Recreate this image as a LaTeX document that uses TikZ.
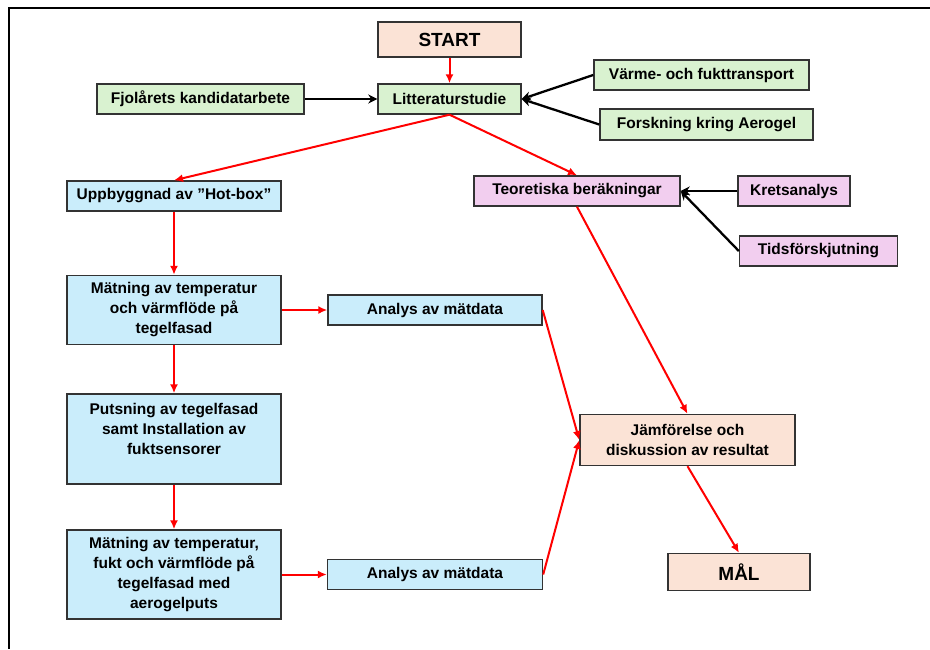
\documentclass[tikz,border=0pt]{standalone}
\usepackage{fontspec}
\setmainfont{Liberation Sans}
\usepackage{tikz}
\usetikzlibrary{arrows.meta}
\definecolor{startfill}{RGB}{251,227,214}
\definecolor{litfill}{RGB}{217,242,208}
\definecolor{measfill}{RGB}{202,237,251}
\definecolor{theofill}{RGB}{242,206,239}
\definecolor{flowred}{RGB}{255,0,0}

\begin{document}
\begin{tikzpicture}[x=1pt,y=-1pt, font=\fontsize{15.5}{20}\selectfont\bfseries,
  box/.style={draw=black!80,line width=1.4pt,inner sep=0pt,align=center},
  bigtext/.style={font=\fontsize{19}{22}\selectfont\bfseries},
  redarr/.style={->,draw=flowred,line width=2pt,>={Latex[length=9pt,width=8pt]}},
  blackarr/.style={->,draw=black,line width=2.3pt,>={Stealth[length=9pt,width=9pt]}}]
\useasboundingbox (0,0) rectangle (930,649);
\draw[line width=2.2pt] (930,8) -- (9,8) -- (9,649);

% Boxes
\node(start)[box,bigtext,fill=startfill,minimum width=143,minimum height=35] at (449.5,39.5){START};
\node(litt)[box,fill=litfill,minimum width=143,minimum height=30] at (449.5,99){Litteraturstudie};
\node(fjol)[box,fill=litfill,minimum width=207,minimum height=30] at (200.5,99){Fjolårets kandidatarbete};
\node(varme)[box,fill=litfill,minimum width=215,minimum height=30] at (701.5,75){Värme- och fukttransport};
\node(forsk)[box,fill=litfill,minimum width=213,minimum height=31] at (706.5,124.5){Forskning kring Aerogel};

\node(hotbox)[box,fill=measfill,minimum width=214,minimum height=30] at (174,196){Uppbyggnad av ”Hot-box”};
\node(matn1)[box,fill=measfill,minimum width=214,minimum height=69] at (174,310){Mätning av temperatur\\och värmflöde på\\tegelfasad};
\node(analys1)[box,fill=measfill,minimum width=214,minimum height=30] at (435,310){Analys av mätdata};
\node(puts)[box,fill=measfill,minimum width=214,minimum height=90] at (174,439){Putsning av tegelfasad\\samt Installation av\\fuktsensorer\\\mbox{}};
\node(matn2)[box,fill=measfill,minimum width=214,minimum height=89] at (174,574.5){Mätning av temperatur,\\fukt och värmflöde på\\tegelfasad med\\aerogelputs};
\node(analys2)[box,fill=measfill,minimum width=215,minimum height=30] at (435,574.5){Analys av mätdata};

\node(teori)[box,fill=theofill,minimum width=206,minimum height=30] at (577,191){Teoretiska beräkningar};
\node(krets)[box,fill=theofill,minimum width=112,minimum height=30] at (794,191){Kretsanalys};
\node(tids)[box,fill=theofill,minimum width=158,minimum height=30] at (818.5,251){Tidsförskjutning};

\node(jamf)[box,fill=startfill,minimum width=215,minimum height=51] at (687.5,440){Jämförelse och\\diskussion av resultat};
\node(mal)[box,bigtext,fill=startfill,minimum width=142,minimum height=37] at (739,572){MÅL};

% Arrows
\draw[redarr] (start.south) -- (litt.north);
\draw[blackarr] (fjol.east) -- (litt.west);
\draw[blackarr] (varme.west) -- (litt.east);
\draw[blackarr] (forsk.west) -- (litt.east);
\draw[redarr] (litt.south) -- (hotbox.north);
\draw[redarr] (litt.south) -- (teori.north);
\draw[blackarr] (krets.west) -- (teori.east);
\draw[blackarr] (tids.west) -- (teori.east);
\draw[redarr] (hotbox.south) -- (matn1.north);
\draw[redarr] (matn1.east) -- (analys1.west);
\draw[redarr] (matn1.south) -- (puts.north);
\draw[redarr] (puts.south) -- (matn2.north);
\draw[redarr] (matn2.east) -- (analys2.west);
\draw[redarr] (analys1.east) -- (jamf.west);
\draw[redarr] (analys2.east) -- (jamf.west);
\draw[redarr] (teori.south) -- (jamf.north);
\draw[redarr] (jamf.south) -- (mal.north);
\end{tikzpicture}
\end{document}
